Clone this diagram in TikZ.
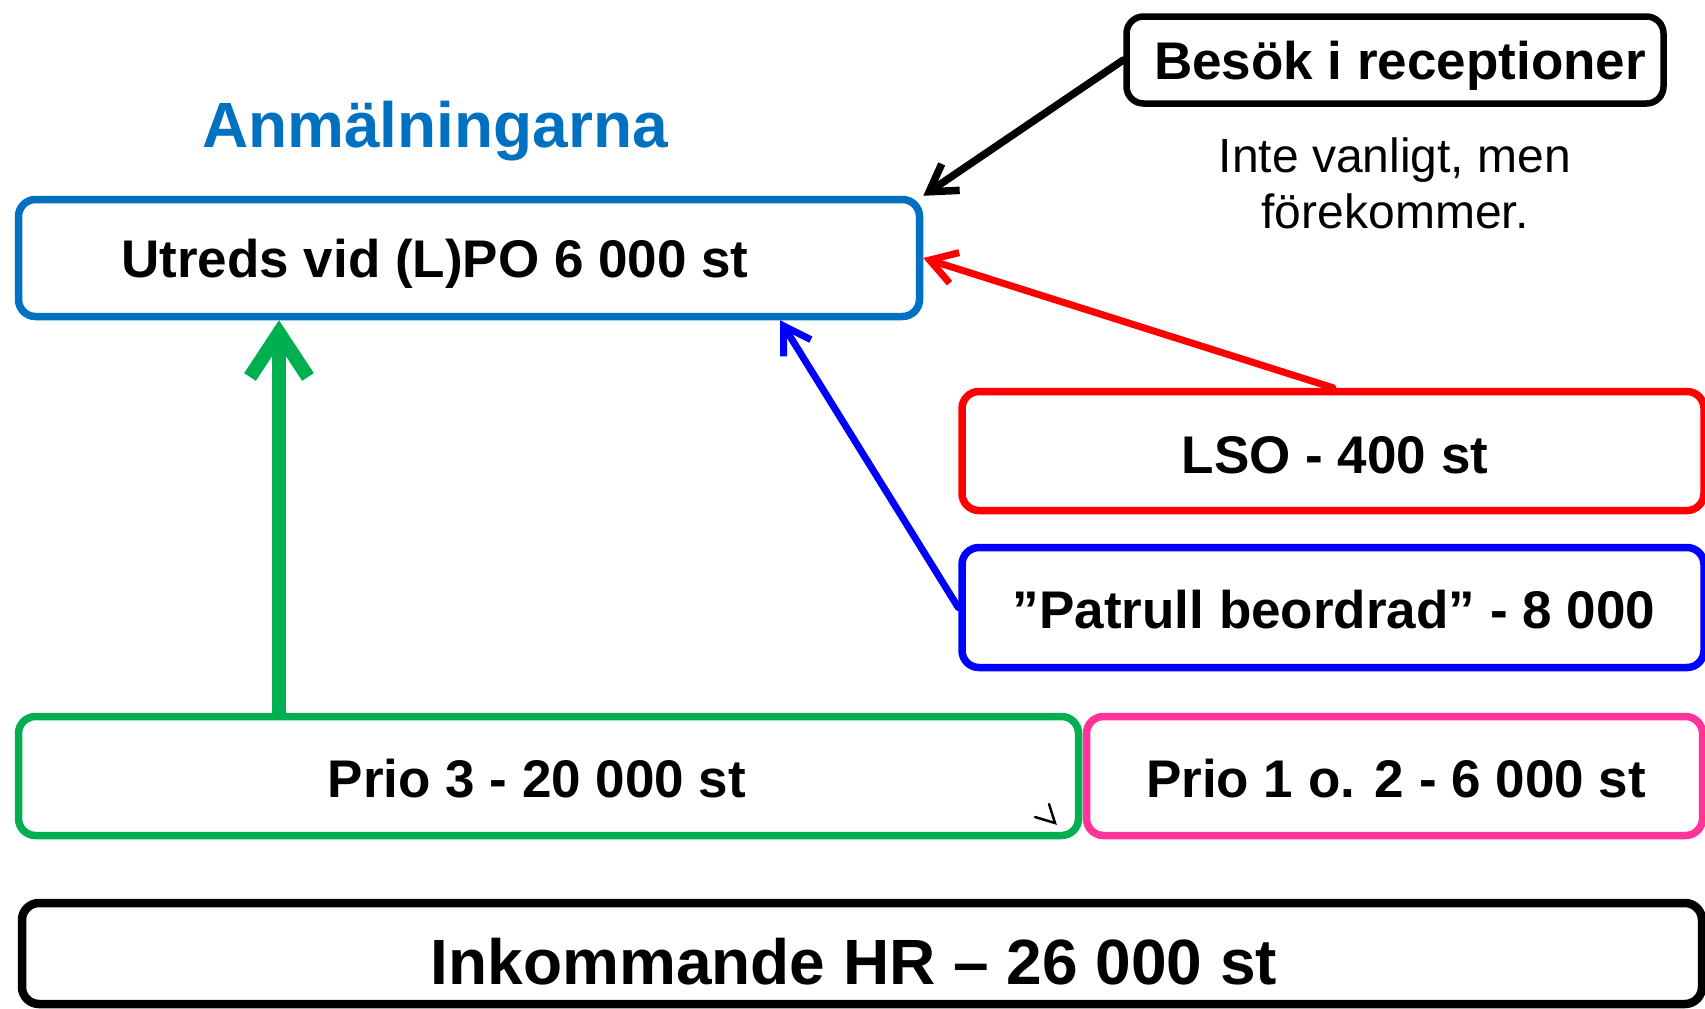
\documentclass[tikz,border=0pt]{standalone}
\usepackage{fontspec}
\setmainfont{Liberation Sans}
\usepackage{tikz}
\usetikzlibrary{arrows.meta}

\definecolor{anmblue}{RGB}{0,112,192}
\definecolor{priogreen}{RGB}{0,176,80}
\definecolor{priopink}{RGB}{255,51,153}

\begin{document}
\begin{tikzpicture}[x=1pt,y=-1pt,
    box/.style={draw,rounded corners=17pt,line width=7.5pt,inner sep=0pt},
    boxtext/.style={anchor=base,font=\fontsize{53}{60}\selectfont\bfseries},
    barb/.style={line cap=round,line join=round,-{Straight Barb[length=26pt,width=32pt]}}]
  \useasboundingbox (0,0) rectangle (1705,1009);
  % boxes
  \node[box,draw=anmblue,minimum width=901pt,minimum height=117pt] (utreds) at (469,258) {};
  \node[box,line width=6.5pt,minimum width=537pt,minimum height=87pt] (besok) at (1395,60) {};
  \node[box,draw=red,minimum width=742pt,minimum height=119pt] (lso) at (1333,451) {};
  \node[box,draw=blue,minimum width=742pt,minimum height=120pt] (patrull) at (1333,607.5) {};
  \node[box,draw=priogreen,minimum width=1060pt,minimum height=119pt] (prio3) at (548.5,776) {};
  \node[box,draw=priopink,minimum width=616pt,minimum height=119pt] (prio12) at (1394.5,776) {};
  \node[box,line width=8.5pt,minimum width=1680pt,minimum height=101pt] (inkommande) at (862,953.5) {};
  % texts
  \node[anchor=base,text=anmblue,font=\fontsize{64}{70}\selectfont\bfseries] (rubrik) at (435,147) {Anmälningarna};
  \node[boxtext] (utredstext) at (435,277) {Utreds vid (L)PO 6 000 st};
  \node[boxtext] (besoktext) at (1400,79) {Besök i receptioner};
  \node[anchor=base,align=center,font=\fontsize{48}{56}\selectfont] (besoknot) at (1395,228) {Inte vanligt, men\\förekommer.};
  \node[boxtext] (lsotext) at (1335,473) {LSO - 400 st};
  \node[boxtext] (patrulltext) at (1334,628) {”Patrull beordrad” - 8 000};
  \node[boxtext] (prio3text) at (537,797) {Prio 3 - 20 000 st};
  \node[boxtext] (prio12text) at (1396,797) {Prio 1 o. 2 - 6 000 st};
  \node[anchor=base,font=\fontsize{64}{70}\selectfont\bfseries] (inktext) at (854,984) {Inkommande HR – 26 000 st};
  % arrows
  \draw[line width=14pt,priogreen,line cap=round,line join=round,-{Straight Barb[length=44pt,width=58pt]}]
    ([xshift=-269.5pt]prio3.north) -- ([xshift=-190pt]utreds.south);
  \draw[barb,line width=7pt,blue] (patrull.west) -- ([xshift=311pt]utreds.south);
  \draw[barb,line width=7pt,red] (lso.north) -- (utreds.east);
  \draw[barb,line width=7.5pt] (besok.west) -- (utreds.north east);
  \draw[line width=2.5pt,line cap=round] (1035,817) -- (1055,823) -- (1049,804);
\end{tikzpicture}
\end{document}
